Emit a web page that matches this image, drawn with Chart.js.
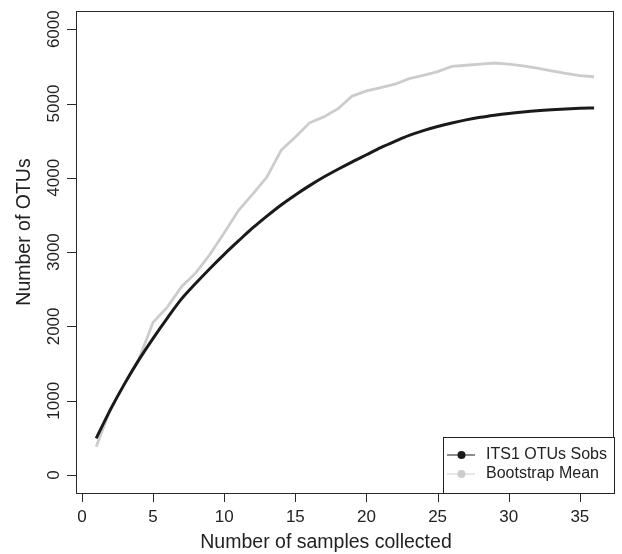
<!DOCTYPE html>
<html>
<head>
<meta charset="utf-8">
<style>
  body { margin: 0; background: #fff; }
</style>
</head>
<body>
<div>
  <canvas id="chart" width="622" height="554"></canvas>
</div>

<script src="https://cdn.jsdelivr.net/npm/chart.js"></script>

<script>
  const samples = [1, 2, 3, 4, 5, 6, 7, 8, 9, 10, 11, 12, 13, 14, 15, 16, 17, 18,
    19, 20, 21, 22, 23, 24, 25, 26, 27, 28, 29, 30, 31, 32, 33, 34, 35, 36];

  const sobs = [494, 880, 1230, 1550, 1840, 2112, 2370, 2580, 2780, 2970, 3150, 3325,
    3485, 3635, 3770, 3895, 4010, 4115, 4215, 4310, 4405, 4490, 4570, 4635,
    4690, 4738, 4780, 4815, 4843, 4867, 4887, 4904, 4917, 4927, 4935, 4941];

  const bootMean = [381, 890, 1230, 1560, 2055, 2260, 2535, 2720, 2970, 3260, 3560, 3780,
    4010, 4370, 4550, 4740, 4820, 4930, 5100, 5170, 5215, 5260, 5335, 5380,
    5430, 5500, 5515, 5530, 5545, 5530, 5505, 5475, 5440, 5405, 5375, 5360];

  const xTicks = [0, 5, 10, 15, 20, 25, 30, 35];
  const yTicks = [0, 1000, 2000, 3000, 4000, 5000, 6000];

  const seriesNames = ['ITS1 OTUs Sobs', 'Bootstrap Mean'];
  const xTitle = 'Number of samples collected';
  const yTitle = 'Number of OTUs';

  const FONT = "'Liberation Sans', Arial, Helvetica, sans-serif";
  const INK = '#222';
  const TICK_LEN = 9;

  const toPoints = (ys) => samples.map((x, i) => ({ x, y: ys[i] }));

  // box round the plot, R-style tick marks, axis titles and the legend
  const extras = {
    id: 'extras',
    afterDraw(chart) {
      const { ctx, chartArea: a, scales } = chart;
      ctx.save();
      ctx.strokeStyle = '#2a2a2a';
      ctx.lineWidth = 1;
      ctx.strokeRect(a.left + 0.5, a.top + 0.5, a.right - a.left - 1, a.bottom - a.top);

      ctx.beginPath();
      scales.x.ticks.forEach((t) => {
        const px = Math.round(scales.x.getPixelForValue(t.value)) + 0.5;
        ctx.moveTo(px, a.bottom);
        ctx.lineTo(px, a.bottom + TICK_LEN);
      });
      scales.y.ticks.forEach((t) => {
        const py = Math.round(scales.y.getPixelForValue(t.value)) + 0.5;
        ctx.moveTo(a.left, py);
        ctx.lineTo(a.left - TICK_LEN, py);
      });
      ctx.stroke();

      ctx.fillStyle = INK;
      ctx.font = `19.5px ${FONT}`;
      ctx.textAlign = 'center';
      ctx.textBaseline = 'middle';
      ctx.fillText(xTitle, (a.left + a.right) / 2 - 19, 543);
      ctx.save();
      ctx.translate(25, (a.top + a.bottom) / 2 - 20);
      ctx.rotate(-Math.PI / 2);
      ctx.fillText(yTitle, 0, 0);
      ctx.restore();

      // legend
      const w = 171, h = 56;
      const x0 = a.right - w, y0 = a.bottom - h;
      ctx.fillStyle = '#fff';
      ctx.fillRect(x0, y0, w, h);
      ctx.strokeStyle = '#222';
      ctx.strokeRect(x0 + 0.5, y0 + 0.5, w, h);
      ctx.font = `16px ${FONT}`;
      ctx.textAlign = 'left';
      chart.data.datasets.forEach((ds, i) => {
        const y = y0 + 18 + i * 19;
        ctx.strokeStyle = ds.borderColor;
        ctx.lineWidth = 1;
        ctx.beginPath();
        ctx.moveTo(x0 + 4, y);
        ctx.lineTo(x0 + 32, y);
        ctx.stroke();
        ctx.fillStyle = ds.borderColor;
        ctx.beginPath();
        ctx.arc(x0 + 18.5, y, 4, 0, Math.PI * 2);
        ctx.fill();
        ctx.fillStyle = INK;
        ctx.fillText(ds.label, x0 + 43, y);
      });
      ctx.restore();
    },
  };

  const ctx = document.getElementById('chart');

  const chart = new Chart(ctx, {
    type: 'line',
    data: {
      datasets: [
        {
          label: seriesNames[0],
          data: toPoints(sobs),
          borderColor: '#1a1a1a',
          borderWidth: 3,
          pointRadius: 0,
          cubicInterpolationMode: 'monotone',
        },
        {
          label: seriesNames[1],
          data: toPoints(bootMean),
          borderColor: '#cccccc',
          borderWidth: 2.8,
          pointRadius: 0,
          tension: 0,
        },
      ],
    },
    options: {
      responsive: false,
      animation: false,
      events: [],
      layout: {
        padding: { top: 11, right: 8, left: 0, bottom: 0 },
      },
      plugins: {
        legend: { display: false },
        tooltip: { enabled: false },
      },
      scales: {
        x: {
          type: 'linear',
          min: -0.42,
          max: 37.4,
          afterFit: (scale) => { scale.height = 61; },
          afterBuildTicks: (scale) => { scale.ticks = xTicks.map((v) => ({ value: v })); },
          border: { display: false },
          grid: { display: false, drawTicks: true, tickLength: TICK_LEN },
          ticks: {
            font: { family: FONT, size: 17 },
            color: INK,
            padding: 5,
            maxRotation: 0,
            callback: (v) => String(v),
          },
        },
        y: {
          type: 'linear',
          min: -242,
          max: 6245,
          afterFit: (scale) => { scale.width = 76; },
          afterBuildTicks: (scale) => { scale.ticks = yTicks.map((v) => ({ value: v })); },
          border: { display: false },
          grid: { display: false, drawTicks: true, tickLength: TICK_LEN },
          ticks: {
            font: { family: FONT, size: 17 },
            color: INK,
            padding: -6,
            minRotation: 90,
            maxRotation: 90,
            crossAlign: 'center',
            callback: (v) => String(v),
          },
        },
      },
    },
    plugins: [extras],
  });
</script>
</body>
</html>
